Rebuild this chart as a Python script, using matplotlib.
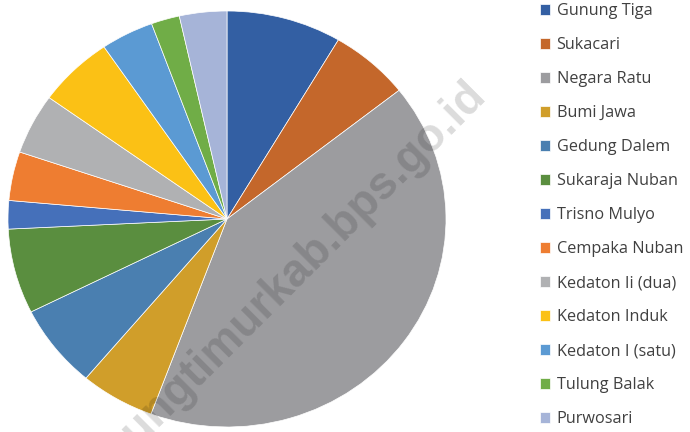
import matplotlib
matplotlib.use("Agg")
import matplotlib.pyplot as plt

categories = ["Gunung Tiga", "Sukacari", "Negara Ratu", "Bumi Jawa", "Gedung Dalem",
              "Sukaraja Nuban", "Trisno Mulyo", "Cempaka Nuban", "Kedaton Ii (dua)",
              "Kedaton Induk", "Kedaton I (satu)", "Tulung Balak", "Purwosari"]
values = [8.5, 5.9, 41.3, 5.5, 6.5, 6.6, 2.2, 3.8, 4.7, 5.6, 3.9, 2.1, 3.5]
colors = ["#335FA3", "#C4672B", "#9C9C9F", "#D09E2A", "#4A7FB0", "#5A8E3F", "#4570BA",
          "#EE7D31", "#B0B1B3", "#FBC115", "#5B9AD3", "#70AD47", "#A6B4D8"]

fig = plt.figure(figsize=(6.9, 4.32), dpi=100)
ax = fig.add_axes([8 / 690, 5 / 432, 438 / 690, 416 / 432])
wedges, _ = ax.pie(values, colors=colors, startangle=90, counterclock=False,
                   wedgeprops=dict(edgecolor="white", linewidth=0.5))
ax.set_aspect("auto")
ax.set_xlim(-1, 1)
ax.set_ylim(-1, 1)

leg = fig.legend(wedges, categories, loc="upper left",
                 bbox_to_anchor=(540 / 690, 1 - 3 / 432), frameon=False,
                 prop=dict(family="Open Sans", size=11.7),
                 labelcolor="#404040", handlelength=0.64, handleheight=0.64,
                 handletextpad=0.38, labelspacing=1.11, borderaxespad=0.0,
                 borderpad=0.0)

fig.text(487 / 690, 1 - 96 / 432, "lampungtimurkab.bps.go.id", rotation=45,
         rotation_mode="anchor", ha="right", va="baseline",
         fontsize=33, fontweight="bold", family="Liberation Sans",
         color="black", alpha=0.14)

fig.savefig("out.png", dpi=100)
